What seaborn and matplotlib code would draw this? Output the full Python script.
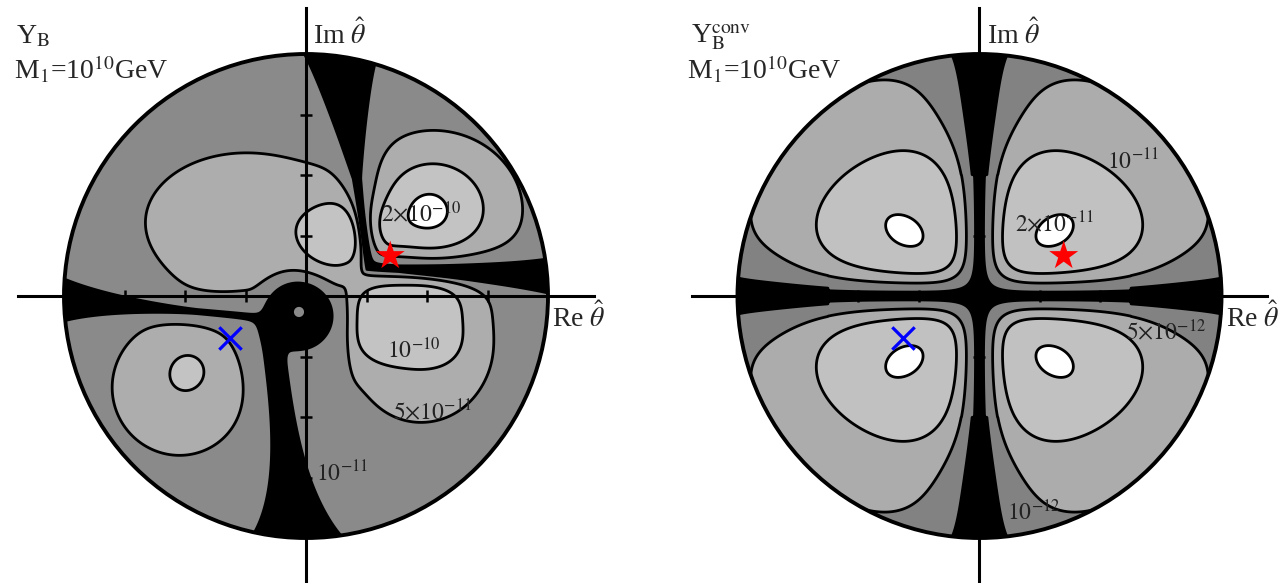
import numpy as np
import matplotlib
matplotlib.use("Agg")
import matplotlib.pyplot as plt
from matplotlib.patches import Circle
import seaborn as sns

sns.set_theme(style="white")
plt.rcParams["font.family"] = ["Liberation Serif", "DejaVu Serif"]
plt.rcParams["mathtext.fontset"] = "stix"

# ------------------------------------------------------------------
# Values (disc of radius 1 in the theta-hat plane)
# ------------------------------------------------------------------
LEVELS = [1, 5, 10, 20]          # Y_B in 1e-11 (left) / Y_B^conv in 1e-12 (right)
FLAV_COLORS = ["#000000", "#8a8a8a", "#adadad", "#c3c3c3", "#ffffff"]
CONV_COLORS = ["#000000", "#828282", "#acacac", "#c1c1c1", "#ffffff"]
FLAV_LABELS = [r"$10^{-11}$", r"$5{\times}10^{-11}$", r"$10^{-10}$", r"$2{\times}10^{-10}$"]
CONV_LABELS = [r"$10^{-12}$", r"$5{\times}10^{-12}$", r"$10^{-11}$", r"$2{\times}10^{-11}$"]
FLAV_LABEL_U = [0.041, 0.360, 0.335, 0.310]
FLAV_LABEL_V = [-0.764, -0.512, -0.256, 0.306]
CONV_LABEL_U = [0.114, 0.607, 0.528, 0.147]
CONV_LABEL_V = [-0.928, -0.182, 0.522, 0.265]
TICKS = [-0.75, -0.5, -0.25, 0.25, 0.5, 0.75]
STAR_UV = [0.348, 0.166]
CROSS_UV = [-0.315, -0.172]

# flavoured Y_B: the two sign-change curves (L-shaped), u = a - k v and v = b - m u
Z1_LINE = [0.274, 0.136, 0.130, 0.050]
Z2_LINE = [-0.160, 0.124, -0.102, 0.086]
Z_EPS = [0.015, 0.02]
FLAV_SLOPE = [14.0, 9.0, 25.0]     # across Z1 (positive side, negative side), across Z2
FLAV_BASE = [3.2, 0.35]            # level of the outer plateau, rim taper
# smooth bumps of |Y_B|: centre, height, widths, cut at the wall
FLAV_BUMP_U = [0.50, 0.56, 0.15, 0.50, -0.27, -0.55, -0.48, 0.33]
FLAV_BUMP_V = [0.34, 0.36, 0.25, -0.25, 0.32, -0.40, -0.30, 0.27]
FLAV_BUMP_AMP = [12.0, 9.0, 14.0, 4.5, 5.0, 5.5, 4.0, 4.0]
FLAV_BUMP_SU = [0.10, 0.22, 0.11, 0.22, 0.30, 0.20, 0.07, 0.07]
FLAV_BUMP_SV = [0.10, 0.20, 0.09, 0.22, 0.20, 0.20, 0.07, 0.08]
FLAV_BUMP_WALL = [0, 0, 0, 1, 0, 0, 0, 0]
FLAV_WALL = [0.175, 0.010]         # Re position of the steep edge left of the lower lobe
# flat-topped plateau below the star (centre, height, half-widths, edge power)
FLAV_BOX = [0.415, -0.10, 10.8, 0.20, 0.16, 3.0]
# black zone widths: (start, width at start, width at rim, floor)
Z1_UP_WIDTH = [0.45, 0.0, 0.145, 0.009]
Z1_RIGHT_WIDTH = [0.35, 0.006, 0.065, 0.009]
Z2_LEFT_WIDTH = [0.30, 0.0, 0.09, 0.004]
Z2_DOWN_WIDTH = [0.20, 0.05, 0.19]
BLOB = [-0.033, -0.078, 0.17]      # centre and radius of the central dark blob
HOLE = [-0.029, -0.066, 3.0, 0.018]

# conventional Y_B^conv (units 1e-12)
CONV_BASE = [8.5, 13.0, 0.68, 0.58]  # rim level, central excess, plateau radius along Re / Im
CONV_SLOPE_X = [7.1, 2.4]          # across Re axis: centre, rim
CONV_SLOPE_Y = [7.1, 1.5]          # across Im axis: centre, rim
CONV_POWER = [1.4, 1.0]            # centre, rim
CONV_LOBE_U = [0.33, -0.33, -0.33, 0.33]
CONV_LOBE_V = [0.28, 0.28, -0.28, -0.28]
CONV_LOBE_AMP = [4.0, 4.0, 4.0, 4.0]
CONV_LOBE_SRAD = [0.09, 0.09, 0.09, 0.09]
CONV_LOBE_STAN = [0.055, 0.055, 0.055, 0.055]
CONV_X_WIDTH = [0.625, 0.029, 0.058, 1e-4]
CONV_Y_WIDTH = [0.50, 0.027, 0.09, 1e-4]


# ------------------------------------------------------------------
def smin(a, b, eps):
    return 0.5 * (a + b) - np.sqrt(0.25 * (a - b) ** 2 + eps ** 2)


def smax(a, b, eps):
    return 0.5 * (a + b) + np.sqrt(0.25 * (a - b) ** 2 + eps ** 2)


def ramp(x, spec):
    x0, w0, w1, floor = spec
    t = np.clip((x - x0) / (1 - x0), 0, 1)
    return np.where(x > x0, np.maximum(w0 + (w1 - w0) * t, floor), floor)


def dead(dn):
    d4 = np.minimum(np.abs(dn), 1e3) ** 4
    return d4 / (1 + d4)


def bumps(u, v, cu, cv, amp, su, sv, wall_flag, wall):
    out = np.zeros_like(u)
    w = 1.0 / (1.0 + np.exp(-(u - wall[0]) / wall[1]))
    for a, b, A, sa, sb, fl in zip(cu, cv, amp, su, sv, wall_flag):
        g = A * np.exp(-((u - a) ** 2) / (2 * sa ** 2) - ((v - b) ** 2) / (2 * sb ** 2))
        out += g * w if fl else g
    return out, w


def radial_bumps(u, v, cu, cv, amp, srad, stan):
    out = np.zeros_like(u)
    for a, b, A, sr, st in zip(cu, cv, amp, srad, stan):
        n = np.hypot(a, b)
        dr = ((u - a) * a + (v - b) * b) / n
        dt = (-(u - a) * b + (v - b) * a) / n
        out += A * np.exp(-dr ** 2 / (2 * sr ** 2) - dt ** 2 / (2 * st ** 2))
    return out


def flav_field(u, v):
    r = np.hypot(u, v)
    a1, k1, b1, m1 = Z1_LINE
    a2, k2, b2, m2 = Z2_LINE
    p1 = u - (a1 - k1 * v)
    q1 = v - (b1 - m1 * u)
    p2 = u - (a2 - k2 * v)
    q2 = v - (b2 - m2 * u)
    s1 = -smin(p1, q1, Z_EPS[0])
    s2 = smax(p2, q2, Z_EPS[1])
    bsum, wall = bumps(u, v, FLAV_BUMP_U, FLAV_BUMP_V, FLAV_BUMP_AMP, FLAV_BUMP_SU, FLAV_BUMP_SV,
                       FLAV_BUMP_WALL, FLAV_WALL)
    bu, bv, bA, bhu, bhv, bp = FLAV_BOX
    box = bA * np.exp(-np.log(2) * (np.abs((u - bu) / bhu) ** bp + np.abs((v - bv) / bhv) ** bp)) * wall
    B = FLAV_BASE[0] * (1 - FLAV_BASE[1] * r ** 4) + box + bsum
    a1s = np.where(s1 > 0, FLAV_SLOPE[0], FLAV_SLOPE[1])
    f = B * np.tanh(a1s * s1) * np.tanh(FLAV_SLOPE[2] * s2)
    m_1 = dead(np.minimum(p1 / ramp(v, Z1_UP_WIDTH), q1 / ramp(u, Z1_RIGHT_WIDTH)))
    w2p = Z2_DOWN_WIDTH[1] + (Z2_DOWN_WIDTH[2] - Z2_DOWN_WIDTH[1]) * np.clip(
        (-v - Z2_DOWN_WIDTH[0]) / (1 - Z2_DOWN_WIDTH[0]), 0, 1) ** 3
    w2q = np.maximum(Z2_LEFT_WIDTH[2] * np.clip((-u - Z2_LEFT_WIDTH[0]) / (1 - Z2_LEFT_WIDTH[0]), 0, 1) ** 2,
                     Z2_LEFT_WIDTH[3])
    m_2 = dead(np.maximum(p2 / w2p, q2 / w2q))
    db = np.hypot(u - BLOB[0], v - BLOB[1])
    C = 1 - np.exp(-(db / BLOB[2]) ** 6)
    H = HOLE[2] * np.exp(-((u - HOLE[0]) ** 2 + (v - HOLE[1]) ** 2) / (2 * HOLE[3] ** 2))
    return f * C * m_1 * m_2 + H


def conv_field(u, v):
    r = np.hypot(u, v)
    ax_ = CONV_SLOPE_X[0] - (CONV_SLOPE_X[0] - CONV_SLOPE_X[1]) * r ** 2
    ay_ = CONV_SLOPE_Y[0] - (CONV_SLOPE_Y[0] - CONV_SLOPE_Y[1]) * r ** 2
    pw = CONV_POWER[0] - (CONV_POWER[0] - CONV_POWER[1]) * r ** 2
    rb = np.hypot(u / CONV_BASE[2], v / CONV_BASE[3])
    B = CONV_BASE[0] + CONV_BASE[1] * np.exp(-rb ** 4) + radial_bumps(
        u, v, CONV_LOBE_U, CONV_LOBE_V, CONV_LOBE_AMP, CONV_LOBE_SRAD, CONV_LOBE_STAN)
    tx = np.tanh((ax_ * np.abs(v)) ** pw)
    ty = np.tanh((ay_ * np.abs(u)) ** pw)
    f = B * tx * ty * np.sign(u * v)
    mx = dead(np.abs(v) / ramp(np.abs(u), CONV_X_WIDTH))
    my = dead(np.abs(u) / ramp(np.abs(v), CONV_Y_WIDTH))
    return f * mx * my


# ------------------------------------------------------------------
W, H_PX = 1279, 583
fig = plt.figure(figsize=(W / 100, H_PX / 100), dpi=100)
LIM = 1.19
UNIT = 242.0
size = 2 * LIM * UNIT
ax1 = fig.add_axes([(306 - LIM * UNIT) / W, (H_PX - (296 + LIM * UNIT)) / H_PX, size / W, size / H_PX])
ax2 = fig.add_axes([(979.5 - LIM * UNIT) / W, (H_PX - (296 + LIM * UNIT)) / H_PX, size / W, size / H_PX])

g = np.linspace(-1, 1, 1201)
U, V = np.meshgrid(g, g)
R = np.hypot(U, V)

for ax, field, colors, labels, lu, lv in [
    (ax1, flav_field, FLAV_COLORS, FLAV_LABELS, FLAV_LABEL_U, FLAV_LABEL_V),
    (ax2, conv_field, CONV_COLORS, CONV_LABELS, CONV_LABEL_U, CONV_LABEL_V),
]:
    Z = np.ma.masked_where(R > 1.0, np.abs(field(U, V)))
    ax.contourf(U, V, Z, levels=[0] + LEVELS + [1e9], colors=colors, antialiased=True)
    ax.contour(U, V, Z, levels=LEVELS, colors="black", linewidths=2.0)
    ax.add_patch(Circle((0, 0), 1.0, fill=False, lw=2.8, color="black", zorder=4))
    for t, x, y in zip(labels, lu, lv):
        ax.text(x, y, t, fontsize=17, color="#222222", ha="left", va="baseline", zorder=5)
    sns.scatterplot(x=[STAR_UV[0]], y=[STAR_UV[1]], marker="*", s=480, color="red",
                    edgecolor="none", ax=ax, zorder=6, legend=False)
    sns.scatterplot(x=[CROSS_UV[0]], y=[CROSS_UV[1]], marker="x", s=260, color="blue",
                    linewidth=2.3, ax=ax, zorder=6, legend=False)
    ax.set_xlim(-LIM, LIM)
    ax.set_ylim(-LIM, LIM)
    ax.set_facecolor("white")
    ax.set_axisbelow(False)
    for s in ["top", "right"]:
        ax.spines[s].set_visible(False)
    for s in ["left", "bottom"]:
        ax.spines[s].set_position(("data", 0))
        ax.spines[s].set_color("black")
        ax.spines[s].set_linewidth(2.2)
        ax.spines[s].set_zorder(3)
    ax.set_xticks(TICKS)
    ax.set_yticks(TICKS)
    ax.tick_params(direction="inout", length=9, width=1.8, color="black",
                   bottom=True, left=True, labelbottom=False, labelleft=False)
    ax.set_xlabel("")
    ax.set_ylabel("")
    ax.text(1.017, -0.128, r"Re $\hat{\theta}$", fontsize=20, ha="left", va="baseline")
    ax.text(0.029, 1.041, r"Im $\hat{\theta}$", fontsize=20, ha="left", va="baseline")

fig.text(16 / W, 1 - 43 / H_PX, r"Y$_\mathrm{B}$", fontsize=20, ha="left", va="baseline")
fig.text(14 / W, 1 - 79 / H_PX, r"M$_1$=10$^{10}$GeV", fontsize=20, ha="left", va="baseline")
fig.text(691 / W, 1 - 43 / H_PX, r"Y$_\mathrm{B}^\mathrm{conv}$", fontsize=20, ha="left", va="baseline")
fig.text(687 / W, 1 - 79 / H_PX, r"M$_1$=10$^{10}$GeV", fontsize=20, ha="left", va="baseline")

fig.savefig("out.png", dpi=100, facecolor="white")
